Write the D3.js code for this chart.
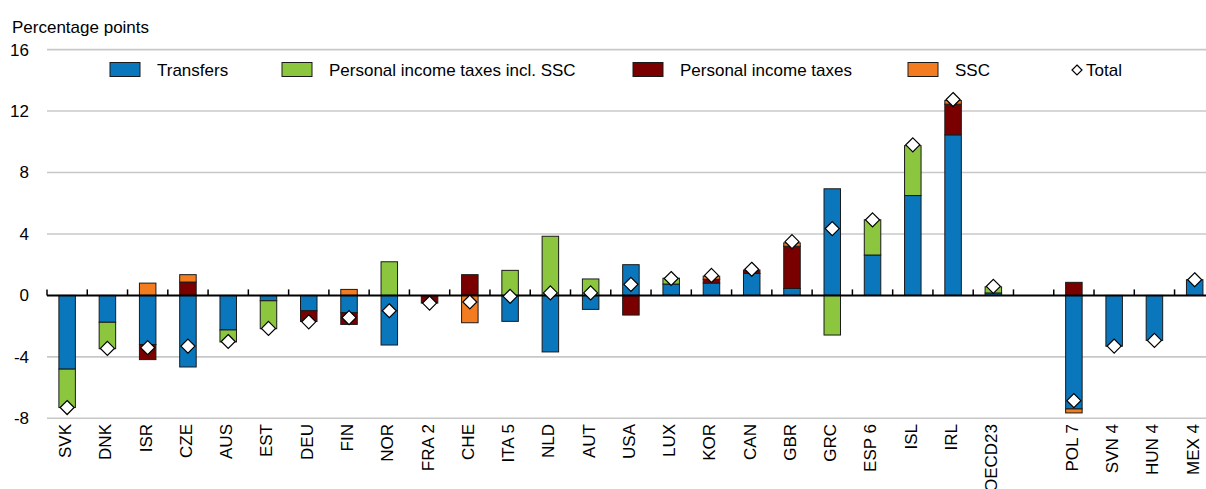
<!DOCTYPE html>
<html>
<head>
<meta charset="utf-8">
<script src="https://cdn.jsdelivr.net/npm/d3@7"></script>
<style>
  body { margin: 0; background: #fff; }
  text { font-family: "Liberation Sans", Arial, sans-serif; fill: #000; }
</style>
</head>
<body>
<div class="chart"></div>
<script>
const width = 1206;
const height = 489;

// Data
const categories = ['SVK', 'DNK', 'ISR', 'CZE', 'AUS', 'EST', 'DEU', 'FIN', 'NOR', 'FRA 2', 'CHE', 'ITA 5', 'NLD', 'AUT', 'USA', 'LUX', 'KOR', 'CAN', 'GBR', 'GRC', 'ESP 6', 'ISL', 'IRL', 'OECD23', '', 'POL 7', 'SVN 4', 'HUN 4', 'MEX 4'];
const transfers = [-4.8, -1.75, -3.2, -4.66, -2.25, -0.35, -1.0, -1.13, -3.23, 0, 0, -1.69, -3.68, -0.91, 2.0, 0.74, 0.8, 1.43, 0.45, 6.94, 2.63, 6.5, 10.45, 0.16, null, -7.39, -3.31, -2.93, 1.02];
const pitInclSsc = [-2.5, -1.72, 0, 0, -0.78, -1.82, 0, 0, 2.19, 0, 0, 1.63, 3.85, 1.07, 0, 0.38, 0, 0, 0, -2.58, 2.29, 3.25, 0, 0.4, null, 0, 0, 0, 0];
const pit = [0, 0, -0.98, 0.87, 0, 0, -0.7, -0.76, 0, -0.5, 1.35, 0, 0, 0, -1.28, 0, 0.25, 0.22, 2.75, 0, 0, 0, 2.0, 0, null, 0.85, 0, 0, 0];
const ssc = [0, 0, 0.8, 0.48, 0, 0, 0, 0.39, 0, 0, -1.78, 0, 0, 0, 0, 0, 0.2, 0, 0.22, 0, 0, 0, 0.24, 0, null, -0.26, 0, 0, 0];
const total = [-7.3, -3.45, -3.4, -3.3, -3.0, -2.15, -1.72, -1.45, -1.0, -0.5, -0.43, -0.06, 0.16, 0.16, 0.72, 1.1, 1.3, 1.7, 3.5, 4.35, 4.92, 9.8, 12.75, 0.59, null, -6.85, -3.3, -2.93, 1.02];
const yTicks = [-8, -4, 0, 4, 8, 12, 16];

const seriesNames = ['Transfers', 'Personal income taxes incl. SSC', 'Personal income taxes', 'SSC'];
const seriesKeys = ['transfers', 'pitInclSsc', 'pit', 'ssc'];
const colors = ['#0a77bd', '#8cc63f', '#7a0000', '#f47c20'];

const keys = categories.map((c, i) => c === '' ? 'gap' + i : c);
const rows = keys.map((k, i) => ({
  key: k,
  transfers: transfers[i] || 0,
  pitInclSsc: pitInclSsc[i] || 0,
  pit: pit[i] || 0,
  ssc: ssc[i] || 0
}));

const svg = d3.select('.chart')
  .append('svg')
  .attr('width', width)
  .attr('height', height);

const left = 47;
const bandW = 40.27;

const xScale = d3.scaleBand()
  .domain(keys)
  .range([left, left + bandW * keys.length])
  .paddingInner(0)
  .paddingOuter(0);

const yScale = d3.scaleLinear()
  .domain([-8, 16])
  .range([418.3, 49.6]);

// Gridlines
svg.append('g')
  .selectAll('line')
  .data(yTicks.filter((d) => d !== 0))
  .enter()
  .append('line')
  .attr('x1', left)
  .attr('x2', width)
  .attr('y1', (d) => yScale(d))
  .attr('y2', (d) => yScale(d))
  .attr('stroke', '#c8c8c8')
  .attr('stroke-width', 1.6);

// Y labels
svg.append('g')
  .selectAll('text')
  .data(yTicks)
  .enter()
  .append('text')
  .attr('x', 29)
  .attr('y', (d) => yScale(d))
  .attr('dy', '0.35em')
  .attr('text-anchor', 'end')
  .style('font-size', '17px')
  .text((d) => d);

svg.append('text')
  .attr('x', 12)
  .attr('y', 33)
  .style('font-size', '17px')
  .text('Percentage points');

// Stacked bars
const stack = d3.stack()
  .keys(seriesKeys)
  .offset(d3.stackOffsetDiverging);
const stacked = stack(rows);
const barW = 16.5;

svg.append('g')
  .selectAll('g')
  .data(stacked)
  .enter()
  .append('g')
  .attr('fill', (d, i) => colors[i])
  .selectAll('rect')
  .data((d) => d.filter((p) => p[1] - p[0] !== 0))
  .enter()
  .append('rect')
  .attr('x', (d) => xScale(d.data.key) + xScale.bandwidth() / 2 - barW / 2)
  .attr('y', (d) => yScale(Math.max(d[0], d[1])))
  .attr('width', barW)
  .attr('height', (d) => Math.abs(yScale(d[0]) - yScale(d[1])))
  .attr('stroke', '#1a1a1a')
  .attr('stroke-width', 1);

// Zero axis with ticks
const xAxis = d3.axisTop(xScale).tickSize(0).tickFormat('');
svg.append('line')
  .attr('x1', left)
  .attr('x2', width)
  .attr('y1', yScale(0))
  .attr('y2', yScale(0))
  .attr('stroke', '#000')
  .attr('stroke-width', 2);

svg.append('g')
  .selectAll('line')
  .data(keys)
  .enter()
  .append('line')
  .attr('x1', (d) => xScale(d))
  .attr('x2', (d) => xScale(d))
  .attr('y1', yScale(0))
  .attr('y2', yScale(0) - 6)
  .attr('stroke', '#000')
  .attr('stroke-width', 1.5);

// Category labels
svg.append('g')
  .selectAll('text')
  .data(keys)
  .enter()
  .append('text')
  .attr('transform', (d) => `translate(${xScale(d) + xScale.bandwidth() / 2 - 2}, 424) rotate(-90)`)
  .attr('dy', '0.35em')
  .attr('text-anchor', 'end')
  .style('font-size', '17px')
  .text((d, i) => categories[i]);

// Total diamonds
const dia = 7;
const diamondPath = (s) => `M0,${-s}L${s},0L0,${s}L${-s},0Z`;
svg.append('g')
  .selectAll('path')
  .data(total.map((t, i) => ({ t, key: keys[i] })).filter((d) => d.t !== null))
  .enter()
  .append('path')
  .attr('d', diamondPath(dia))
  .attr('transform', (d) => `translate(${xScale(d.key) + xScale.bandwidth() / 2}, ${yScale(d.t)})`)
  .attr('fill', '#fff')
  .attr('stroke', '#000')
  .attr('stroke-width', 1.2);

// Legend
const legendX = [110, 282, 633, 908];
const legend = svg.append('g');
seriesNames.forEach((name, i) => {
  legend.append('rect')
    .attr('x', legendX[i])
    .attr('y', 62.5)
    .attr('width', 30)
    .attr('height', 14)
    .attr('fill', colors[i])
    .attr('stroke', '#1a1a1a')
    .attr('stroke-width', 1);
  legend.append('text')
    .attr('x', legendX[i] + 47)
    .attr('y', 76)
    .style('font-size', '17px')
    .text(name);
});
legend.append('path')
  .attr('d', diamondPath(5))
  .attr('transform', 'translate(1077, 70)')
  .attr('fill', '#fff')
  .attr('stroke', '#000')
  .attr('stroke-width', 1.2);
legend.append('text')
  .attr('x', 1086)
  .attr('y', 76)
  .style('font-size', '17px')
  .text('Total');
</script>
</body>
</html>
